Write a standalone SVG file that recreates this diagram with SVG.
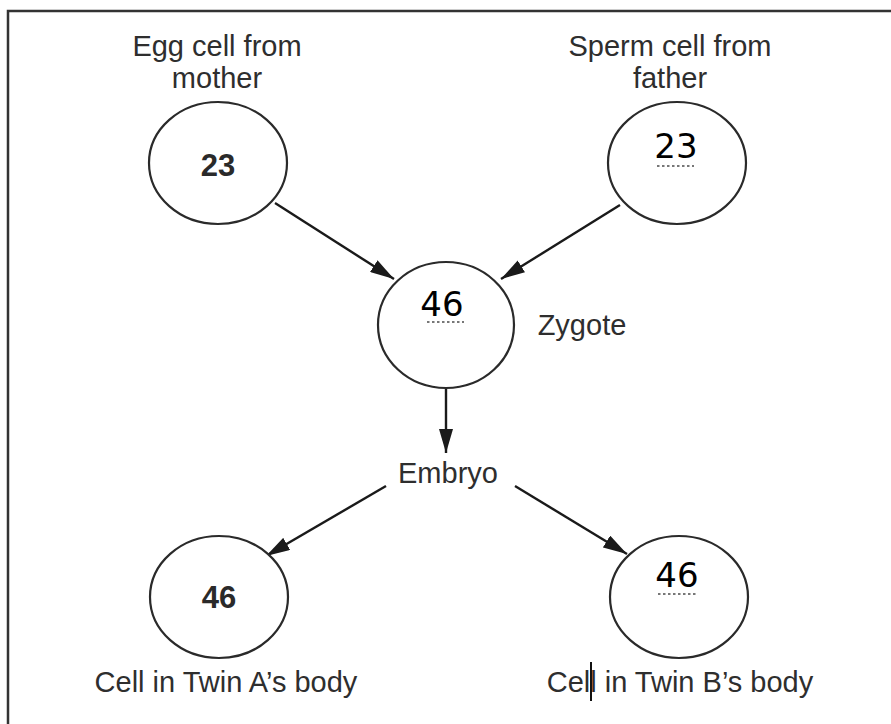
<svg xmlns="http://www.w3.org/2000/svg" width="891" height="724" viewBox="0 0 891 724">
<defs>
<marker id="ah" viewBox="0 0 24 14" refX="24" refY="7" markerWidth="24" markerHeight="14" markerUnits="userSpaceOnUse" orient="auto">
<path d="M0,0 L24,7 L0,14 Z" fill="#1a1a1a"/>
</marker>
</defs>
<style>
.cell{fill:#fff;stroke:#2a2a2a;stroke-width:2.2}
.lbl{font-family:"Liberation Sans",Arial,sans-serif;font-size:29px;fill:#2e2e2e;text-anchor:middle}
.num{font-family:"Liberation Sans",Arial,sans-serif;font-size:31px;font-weight:bold;fill:#2a2a2a;text-anchor:middle}
.hw{font-family:"DejaVu Sans",sans-serif;font-size:34px;fill:#000;text-anchor:middle}
.dots{stroke:#777;stroke-width:2;stroke-dasharray:2.5 2.5}
.conn{stroke:#1a1a1a;stroke-width:2.4;fill:none;marker-end:url(#ah)}
</style>
<rect x="0" y="0" width="891" height="724" fill="#fff"/>
<path d="M8,724 L8,11 L891,11" fill="none" stroke="#333" stroke-width="2.5"/>
<g id="connectors">
<line class="conn" x1="275" y1="203" x2="394" y2="279"/>
<line class="conn" x1="620" y1="205" x2="501" y2="279"/>
<line class="conn" x1="446" y1="389" x2="446" y2="453"/>
<line class="conn" x1="386" y1="486" x2="266" y2="556"/>
<line class="conn" x1="515" y1="486" x2="627" y2="554"/>
</g>
<g id="egg">
<ellipse class="cell" cx="218" cy="163" rx="69" ry="61"/>
<text class="num" x="218" y="176">23</text>
<text class="lbl" x="217" y="56">Egg cell from</text>
<text class="lbl" x="217" y="88">mother</text>
</g>
<g id="sperm">
<ellipse class="cell" cx="677" cy="163" rx="69" ry="61"/>
<text class="hw" x="676" y="158">23</text>
<line class="dots" x1="657" y1="166" x2="694" y2="166"/>
<text class="lbl" x="670" y="56">Sperm cell from</text>
<text class="lbl" x="670" y="88">father</text>
</g>
<g id="zygote">
<ellipse class="cell" cx="446" cy="325" rx="68" ry="63"/>
<text class="hw" x="442" y="316">46</text>
<line class="dots" x1="427" y1="322" x2="464" y2="322"/>
<text class="lbl" x="582" y="335">Zygote</text>
</g>
<g id="embryo">
<text class="lbl" x="448" y="483">Embryo</text>
</g>
<g id="twinA">
<ellipse class="cell" cx="219" cy="597" rx="69" ry="61"/>
<text class="num" x="219" y="608">46</text>
<text class="lbl" x="226" y="692">Cell in Twin A’s body</text>
</g>
<g id="twinB">
<ellipse class="cell" cx="679" cy="597" rx="69" ry="61"/>
<text class="hw" x="677" y="587">46</text>
<line class="dots" x1="658" y1="594" x2="697" y2="594"/>
<text class="lbl" x="680" y="692">Cell in Twin B’s body</text>
<line x1="591" y1="662" x2="591" y2="701" stroke="#111" stroke-width="2"/>
</g>
</svg>
